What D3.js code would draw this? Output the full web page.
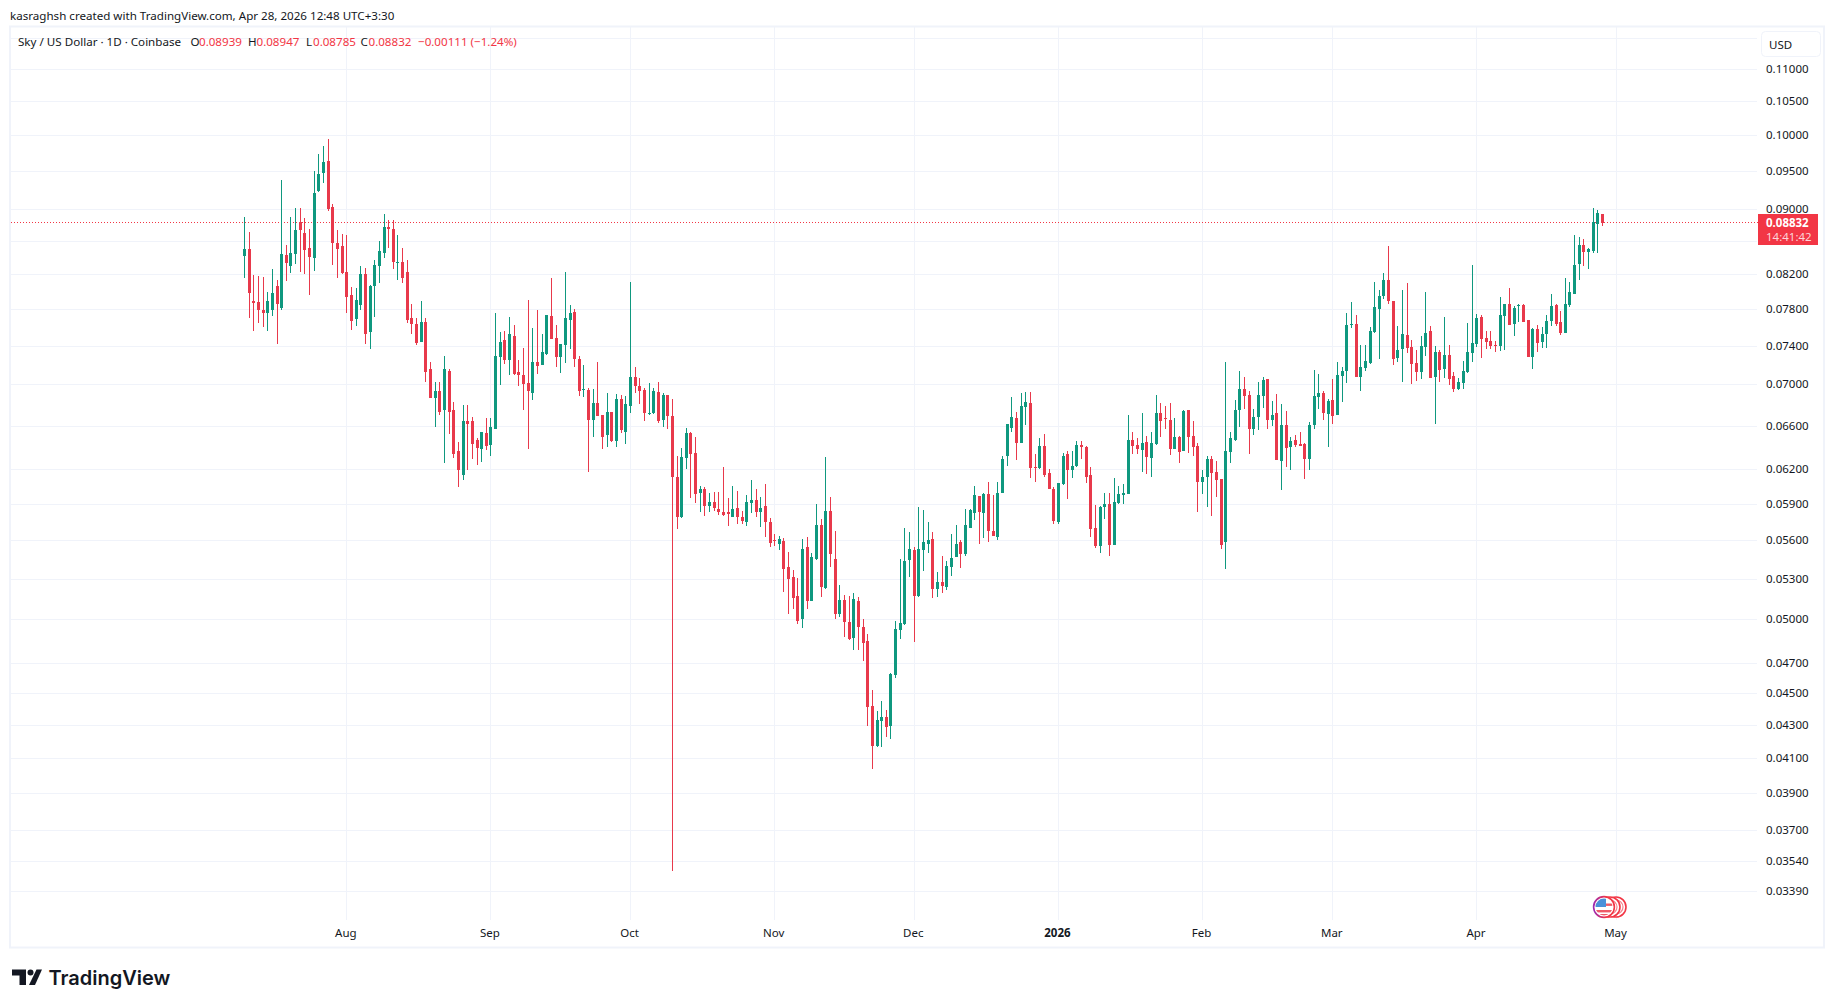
<!DOCTYPE html>
<html>
<head>
<meta charset="utf-8">
<title>Sky / US Dollar</title>
<script src="https://cdn.jsdelivr.net/npm/d3@7"></script>
<style>
    html, body { margin: 0; padding: 0; background: #fff; }
    svg { display: block; font-family: "Noto Sans", sans-serif; }
</style>
</head>
<body>
<script>
// daily candles, first one is Jul 10 2025, last one Apr 28 2026
const firstDay = "2025-07-10";
const lastDay = "2026-04-28";

const opens = [
    .08416, .0851, .07895, .07884, .07792, .07763, .07792, .08067, .07816, .08427,
    .08298, .08439, .08836, .08707, .08522, .08392, .09237, .09478, .09644, .0903,
    .08579, .08545, .08227, .07964, .0769, .0785, .08204, .0755, .08067, .08302,
    .08451, .08772, .08746, .08345, .08345, .08227, .07704, .07637, .07448, .07659,
    .07157, .06867, .06935, .0675, .07137, .0675, .06367, .06157, .06652, .06652,
    .06466, .06385, .06539, .06421, .06575, .07288, .0747, .07259, .07503, .07126,
    .07105, .07024, .06922, .07236, .07198, .07321, .07726, .07489, .07289, .07415,
    .07681, .0777, .0726, .06955, .06952, .06662, .06818, .06701, .06512, .0673,
    .06458, .06863, .06548, .06793, .07085, .06993, .06952, .0672, .0672, .06932,
    .06662, .06902, .06691, .06139, .05794, .06303, .06539, .06348, .05997, .06031,
    .05886, .0592, .05861, .05836, .05836, .05794, .05869, .05794, .05753, .05911,
    .05937, .05836, .05886, .05753, .05603, .05578, .05595, .05395, .0532, .05175,
    .05003, .05549, .05137, .05456, .05728, .05235, .05844, .05455, .0504, .05145,
    .04988, .0487, .05137, .04953, .04849, .04421, .04175, .04327, .04352, .04296,
    .0462, .04926, .04974, .05449, .05526, .05175, .05526, .05578, .05611, .05228,
    .0528, .05243, .05395, .05472, .05587, .05495, .05703, .05828, .05969, .05828,
    .05986, .05678, .05628, .05994, .06322, .06579, .06675, .06441, .06783, .06819,
    .06221, .06212, .06414, .06169, .06031, .05753, .06074, .0634, .06194, .06231,
    .06423, .06405, .06151, .05703, .05556, .05878, .05903, .05564, .05911, .0598,
    .05989, .06469, .06423, .06377, .0645, .06304, .06432, .06724, .06675, .06656,
    .06386, .06496, .06368, .06753, .06505, .06414, .06091, .06134, .06295, .06177,
    .06117, .05587, .06359, .06469, .06753, .06958, .06899, .06568, .06684, .06889,
    .07059, .06655, .06724, .06276, .06606, .06405, .06469, .06432, .06432, .06295,
    .06606, .06879, .06919, .06714, .0685, .06704, .0709, .07138, .07626, .07637,
    .07076, .07169, .07228, .07548, .07804, .07952, .08135, .07895, .0728, .07373,
    .07523, .07393, .07219, .07127, .07393, .07559, .07076, .0734, .07157, .07307,
    .07086, .06964, .07024, .07127, .07326, .07425, .07715, .07492, .07459, .07415,
    .07403, .07726, .07861, .07637, .07838, .0785, .07681, .07282, .07582, .07448,
    .07526, .0767, .0785, .07659, .07537, .0785, .07975, .08324, .08552, .08468,
    .08486, .08815, .08939
];

const highs = [
    .08897, .08716, .08189, .0818, .08173, .08, .08267, .08131, .09382, .08553,
    .08909, .09013, .09013, .08884, .08755, .09514, .09741, .0986, .0995, .09066,
    .08744, .08691, .08677, .08055, .08043, .08304, .0828, .08078, .08373, .086,
    .08936, .08871, .08871, .0868, .08522, .08369, .07861, .077, .07889, .07704,
    .07236, .07034, .07034, .07297, .07157, .06827, .06455, .06797, .06797, .0669,
    .0649, .06548, .06672, .06672, .07759, .07548, .07557, .07715, .07626, .07259,
    .07383, .07904, .076, .07793, .07526, .07733, .08158, .07626, .07426, .08223,
    .0785, .078, .07297, .07205, .06969, .06962, .07229, .06701, .06922, .0673,
    .06909, .06903, .06893, .08109, .07178, .07065, .06974, .07024, .06974, .07034,
    .06922, .06902, .06863, .06325, .06394, .06585, .06548, .06494, .06057, .06049,
    .05997, .06006, .06006, .0622, .05954, .06057, .06014, .05844, .05979, .06108,
    .06031, .0596, .06074, .05786, .05653, .05636, .05626, .05508, .05372, .0531,
    .05611, .05634, .05503, .05903, .05778, .06314, .05963, .0568, .05258, .05183,
    .05175, .05198, .05168, .05009, .04898, .04521, .04389, .04452, .04396, .04634,
    .04995, .05456, .05703, .05669, .05549, .05878, .05853, .05753, .05669, .05356,
    .0548, .05441, .05651, .05728, .05603, .05861, .05861, .06057, .05969, .05994,
    .06091, .05978, .06091, .06327, .06615, .06876, .06733, .06919, .06925, .06925,
    .0634, .06484, .06524, .06203, .06049, .06083, .0635, .06368, .06368, .0646,
    .0646, .06414, .06221, .05894, .05886, .05997, .05997, .06126, .06057, .06074,
    .06704, .06542, .06487, .06724, .06505, .06542, .06899, .06819, .06792, .06819,
    .06675, .06505, .06753, .06753, .06646, .06441, .06194, .06322, .06322, .06277,
    .06117, .0723, .06542, .0685, .07141, .07079, .06938, .06761, .07026, .07079,
    .07059, .0684, .06909, .06811, .06743, .06496, .06515, .06542, .06441, .06634,
    .07152, .0711, .06938, .0686, .07059, .07234, .07183, .07759, .07884, .07737,
    .07415, .07415, .0761, .08112, .08021, .08215, .0854, .07895, .07615, .08021,
    .08101, .0747, .07362, .07503, .07998, .07615, .07403, .07362, .07715, .07415,
    .07126, .07065, .07239, .0765, .08312, .07748, .07737, .07559, .07559, .07459,
    .07941, .07861, .08044, .07838, .07861, .07861, .07681, .07593, .07626, .07604,
    .07737, .07975, .07861, .07781, .08158, .08112, .08676, .08651, .08625, .08516,
    .09017, .08992, .08947
];

const lows = [
    .08162, .07704, .07563, .07652, .07607, .07563, .0773, .07418, .07796, .08122,
    .08216, .08322, .08227, .08204, .07964, .08239, .09224, .09347, .08983, .0831,
    .0816, .08204, .07759, .0757, .07614, .07792, .07426, .07365, .07719, .08101,
    .08392, .08522, .08263, .08135, .08101, .07652, .07534, .07408, .07448, .07034,
    .06867, .06594, .06701, .0626, .06521, .06306, .0605, .06106, .06197, .063,
    .06243, .0627, .06379, .06324, .06575, .07003, .07208, .07097, .07105, .06993,
    .0675, .06385, .06854, .07106, .07198, .0731, .07474, .07178, .07116, .07219,
    .07373, .07178, .06888, .06881, .06179, .06494, .06691, .06385, .06403, .06448,
    .06403, .06538, .0643, .0672, .06915, .06808, .06652, .06701, .0671, .06632,
    .06594, .06576, .0349, .05694, .05786, .06203, .05954, .05911, .05834, .05803,
    .05834, .05842, .05811, .05803, .05719, .05794, .05736, .05736, .05719, .05828,
    .05794, .05711, .05628, .05553, .05561, .05526, .05205, .0504, .05078, .04974,
    .0494, .05078, .05137, .05449, .05168, .05228, .05395, .05003, .05018, .04881,
    .04856, .04786, .04786, .04716, .04296, .0404, .04169, .04169, .04229, .04217,
    .04604, .04867, .04967, .0532, .04843, .05168, .05363, .05503, .0516, .05168,
    .05195, .0522, .05325, .05472, .05387, .0548, .05703, .0577, .05578, .05619,
    .05587, .05636, .05603, .05994, .06231, .06542, .06286, .06441, .06606, .06126,
    .06091, .06203, .06134, .06031, .05736, .05736, .06066, .05946, .06126, .06221,
    .06295, .06083, .05628, .05541, .05503, .05778, .0548, .05564, .05903, .05903,
    .05989, .0634, .0634, .06177, .0616, .06134, .06423, .06496, .0657, .06331,
    .06386, .06258, .06368, .0635, .06322, .05836, .05989, .05878, .05803, .05963,
    .05533, .0538, .06258, .06459, .06588, .06764, .0634, .06515, .0656, .06771,
    .06568, .06597, .06285, .06023, .06221, .06194, .06405, .06414, .06117, .06194,
    .06569, .06763, .06655, .06405, .06615, .06704, .0683, .07024, .07593, .07076,
    .06935, .07138, .07217, .07537, .0726, .07918, .07859, .072, .07229, .07034,
    .0733, .07014, .07044, .07055, .073, .07065, .06616, .07034, .07065, .07003,
    .06925, .06954, .06964, .07116, .0723, .07393, .0728, .07373, .07373, .07342,
    .07352, .07362, .07626, .07511, .07659, .07659, .07282, .07157, .07342, .07385,
    .07385, .07615, .07615, .07515, .07537, .07826, .07975, .08132, .083, .08264,
    .08456, .08456, .08785
];

const closes = [
    .0851, .07987, .07872, .07792, .07763, .07893, .07987, .07861, .08439, .08333,
    .08451, .08733, .08733, .08498, .08404, .09215, .09465, .09631, .09, .08579,
    .0851, .08216, .07941, .07671, .07905, .08204, .07527, .08067, .0831, .08475,
    .0878, .08746, .08345, .08353, .08158, .07682, .07637, .07437, .07659, .07126,
    .06867, .06935, .0673, .07157, .0673, .06339, .06194, .06652, .06623, .0643,
    .06394, .06548, .06412, .06594, .07298, .07448, .0725, .07525, .07115, .07097,
    .07013, .06935, .07236, .07188, .07342, .07733, .07478, .07289, .07426, .07704,
    .07759, .0726, .06942, .06962, .06662, .06818, .06691, .06494, .0673, .06458,
    .06863, .06558, .06808, .07085, .06993, .06942, .0672, .06727, .06942, .06652,
    .06902, .06691, .06134, .05794, .06312, .06539, .06339, .05988, .06031, .05886,
    .0592, .05869, .05836, .05811, .05819, .05861, .05794, .05761, .0592, .05937,
    .05836, .05869, .05753, .05586, .05595, .05611, .05379, .05303, .0516, .04995,
    .05533, .05137, .05472, .05728, .05243, .05844, .05495, .05046, .05145, .04988,
    .04863, .05153, .04953, .04835, .04415, .04175, .04333, .04352, .0429, .04629,
    .04933, .04981, .05441, .05533, .05175, .05533, .05587, .05603, .05228, .0528,
    .0525, .05402, .05464, .05578, .05495, .05728, .05853, .05978, .05836, .05986,
    .05678, .05636, .05994, .06294, .06615, .06685, .06441, .06792, .06829, .06212,
    .06212, .06414, .06151, .06031, .05761, .06083, .06322, .06194, .06231, .06423,
    .06405, .06134, .05694, .05556, .05878, .05903, .05564, .05919, .05989, .05997,
    .06469, .06414, .06386, .06441, .06313, .06441, .06724, .06646, .06665, .06386,
    .06496, .06359, .06743, .06496, .06405, .06091, .06134, .06295, .06169, .06109,
    .05564, .06368, .06487, .06753, .06958, .06889, .06568, .06684, .06899, .07048,
    .06655, .06704, .06285, .06606, .06395, .0646, .06423, .06414, .06295, .06606,
    .06889, .06919, .06724, .0684, .06694, .071, .07141, .07626, .07637, .07076,
    .07179, .07241, .07559, .07826, .07952, .08135, .07895, .0727, .07362, .07535,
    .07383, .07209, .07127, .07403, .07537, .07065, .0734, .07147, .07307, .07055,
    .06964, .07034, .07137, .0734, .07437, .07704, .07481, .07448, .07403, .07403,
    .07737, .07861, .07626, .07815, .0785, .07659, .07282, .07582, .07437, .07526,
    .0767, .07838, .07637, .07537, .07861, .07998, .08312, .08552, .08468, .08504,
    .0884, .08953, .08832
];

// price axis: every gridline, the hidden ones have no label
const gridPrices = [.115, .11, .105, .1, .095, .09, .086, .082, .078, .074, .07, .066, .062, .059, .056, .053, .05, .047, .045, .043, .041, .039, .037, .0354, .0339];
const hiddenLabels = [.115, .086];
const monthTicks = ["2025-08-01", "2025-09-01", "2025-10-01", "2025-11-01", "2025-12-01", "2026-01-01", "2026-02-01", "2026-03-01", "2026-04-01", "2026-05-01"];
const monthLabels = ["Aug", "Sep", "Oct", "Nov", "Dec", "2026", "Feb", "Mar", "Apr", "May"];

const lastPrice = .08832;
const legendParts = [
    ["Sky / US Dollar · 1D · Coinbase", 18, "#131722"],
    ["O", 190.5, "#131722"], ["0.08939", 199, "#F23645"],
    ["H", 248, "#131722"], ["0.08947", 256.5, "#F23645"],
    ["L", 306, "#131722"], ["0.08785", 313, "#F23645"],
    ["C", 360.5, "#131722"], ["0.08832", 368.5, "#F23645"],
    ["−0.00111 (−1.24%)", 418, "#F23645"],
];

const width = 1835;
const height = 1008;
const green = "#0f987f";
const red = "#F23645";
const candleRed = "#e8394b";
const gridColor = "#f0f3fa";

const parseDay = d3.utcParse("%Y-%m-%d");
const days = d3.utcDay.range(parseDay(firstDay), d3.utcDay.offset(parseDay(lastDay), 1));
const candles = days.map((day, i) => ({
    day: day, open: opens[i], high: highs[i], low: lows[i], close: closes[i],
}));

const svg = d3.select("body").append("svg")
    .attr("width", width)
    .attr("height", height);

const x = d3.scaleUtc()
    .domain([parseDay("2025-08-01"), parseDay("2026-05-01")])
    .range([346.8, 1616.5]);

const y = d3.scaleLog()
    .domain([.11, .0339])
    .range([69.3, 891.3]);

const px = v => Math.floor(v) + .5;

// frame
svg.append("rect")
    .attr("x", 10).attr("y", 26.5)
    .attr("width", 1814).attr("height", 921)
    .attr("fill", "none")
    .attr("stroke", gridColor)
    .attr("stroke-width", 2);

// grid
svg.append("g").selectAll("line")
    .data(gridPrices)
    .enter().append("line")
    .attr("x1", 11).attr("x2", 1757)
    .attr("y1", d => px(y(d))).attr("y2", d => px(y(d)))
    .attr("stroke", gridColor);

svg.append("g").selectAll("line")
    .data(monthTicks)
    .enter().append("line")
    .attr("y1", 27).attr("y2", 920)
    .attr("x1", d => px(x(parseDay(d)))).attr("x2", d => px(x(parseDay(d))))
    .attr("stroke", gridColor);

// last price line under the candles
svg.append("line")
    .attr("x1", 11).attr("x2", 1758)
    .attr("y1", px(y(lastPrice))).attr("y2", px(y(lastPrice)))
    .attr("stroke", red)
    .attr("stroke-dasharray", "1 2");

// candles
const candle = svg.append("g")
    .attr("shape-rendering", "crispEdges")
    .selectAll("g")
    .data(candles)
    .enter().append("g")
    .attr("fill", d => d.close >= d.open ? green : candleRed);

candle.append("rect")
    .attr("x", d => Math.floor(x(d.day)))
    .attr("width", 1)
    .attr("y", d => y(d.high))
    .attr("height", d => y(d.low) - y(d.high));

candle.append("rect")
    .attr("x", d => Math.floor(x(d.day)) - 1)
    .attr("width", 3)
    .attr("y", d => y(Math.max(d.open, d.close)))
    .attr("height", d => Math.max(1, y(Math.min(d.open, d.close)) - y(Math.max(d.open, d.close))));

// axes
const priceAxis = d3.axisRight(y)
    .tickValues(gridPrices.filter(d => !hiddenLabels.includes(d)))
    .tickFormat(d3.format(".5f"))
    .tickSize(0)
    .tickPadding(0);

svg.append("g")
    .attr("transform", "translate(1766,-0.7)")
    .call(priceAxis)
    .call(g => g.select(".domain").remove())
    .selectAll("text")
    .attr("font-family", "'Noto Sans', sans-serif")
    .attr("font-size", 11.5)
    .attr("fill", "#131722");

const timeAxis = d3.axisBottom(x)
    .tickValues(monthTicks.map(parseDay))
    .tickFormat((d, i) => monthLabels[i])
    .tickSize(0)
    .tickPadding(0);

svg.append("g")
    .attr("transform", "translate(-1.5,929.3)")
    .call(timeAxis)
    .call(g => g.select(".domain").remove())
    .selectAll("text")
    .attr("font-family", "'Noto Sans', sans-serif")
    .attr("font-size", 11.5)
    .attr("fill", "#131722")
    .attr("font-weight", (d, i) => monthLabels[i] === "2026" ? 700 : 400);

// last price badge
svg.append("rect")
    .attr("x", 1758).attr("y", 214)
    .attr("width", 60).attr("height", 31)
    .attr("fill", red);

svg.append("text")
    .attr("x", 1766).attr("y", 227)
    .attr("font-size", 11.5).attr("font-weight", 700)
    .attr("fill", "#fff")
    .text(d3.format(".5f")(lastPrice));

svg.append("text")
    .attr("x", 1766).attr("y", 241)
    .attr("font-size", 11.5)
    .attr("fill", "#fcd5d9")
    .text("14:41:42");

// currency button
svg.append("rect")
    .attr("x", 1761.5).attr("y", 31.5)
    .attr("width", 59).attr("height", 25)
    .attr("rx", 4)
    .attr("fill", "#fff")
    .attr("stroke", gridColor);

svg.append("text")
    .attr("x", 1769).attr("y", 48.5)
    .attr("font-size", 11.5)
    .attr("fill", "#131722")
    .text("USD");

// title and legend
svg.append("text")
    .attr("x", 10).attr("y", 20)
    .attr("font-size", 11.6)
    .attr("fill", "#131722")
    .text("kasraghsh created with TradingView.com, Apr 28, 2026 12:48 UTC+3:30");

svg.append("g").selectAll("text")
    .data(legendParts)
    .enter().append("text")
    .attr("x", d => d[1])
    .attr("y", 45.5)
    .attr("font-size", 11.6)
    .attr("fill", d => d[2])
    .text(d => d[0]);

// economic event marker, three overlapping badges
const defs = svg.append("defs");
const ring = defs.append("linearGradient").attr("id", "ring");
ring.append("stop").attr("offset", "0%").attr("stop-color", "#9c27b0");
ring.append("stop").attr("offset", "60%").attr("stop-color", red);
defs.append("clipPath").attr("id", "flag")
    .append("circle").attr("cx", 1604).attr("cy", 907).attr("r", 8.5);

const marker = svg.append("g");
[1616, 1610].forEach(cx => {
    marker.append("circle")
        .attr("cx", cx).attr("cy", 907).attr("r", 10)
        .attr("fill", "#fff").attr("stroke", red).attr("stroke-width", 1.6);
    marker.append("circle")
        .attr("cx", cx).attr("cy", 907).attr("r", 7)
        .attr("fill", "none").attr("stroke", "#f4828c").attr("stroke-width", 1.2);
});
marker.append("circle")
    .attr("cx", 1604).attr("cy", 907).attr("r", 10.4)
    .attr("fill", "#fff").attr("stroke", "url(#ring)").attr("stroke-width", 1.6);

const flag = marker.append("g").attr("clip-path", "url(#flag)");
flag.append("rect").attr("x", 1595).attr("y", 898).attr("width", 18).attr("height", 18).attr("fill", "#fff");
[903.5, 910].forEach(sy => {
    flag.append("rect").attr("x", 1595).attr("y", sy).attr("width", 18).attr("height", 2.4).attr("fill", "#ee5a66");
});
flag.append("rect").attr("x", 1595).attr("y", 914).attr("width", 18).attr("height", 3).attr("fill", "#ee5a66");
flag.append("rect").attr("x", 1595).attr("y", 898).attr("width", 11).attr("height", 9).attr("fill", "#4a90d9");

// TradingView logo
const logo = svg.append("g").attr("fill", "#131722");
logo.append("path").attr("d", "M12 969.5H26V985H19.5V975.5H12Z");
logo.append("circle").attr("cx", 30.5).attr("cy", 972.5).attr("r", 3);
logo.append("path").attr("d", "M36.5 969.5H42L35 985H29Z");
logo.append("text")
    .attr("x", 48.5).attr("y", 985)
    .attr("font-family", "Inter, sans-serif")
    .attr("font-size", 20)
    .attr("font-weight", 600)
    .text("TradingView");
</script>
</body>
</html>
